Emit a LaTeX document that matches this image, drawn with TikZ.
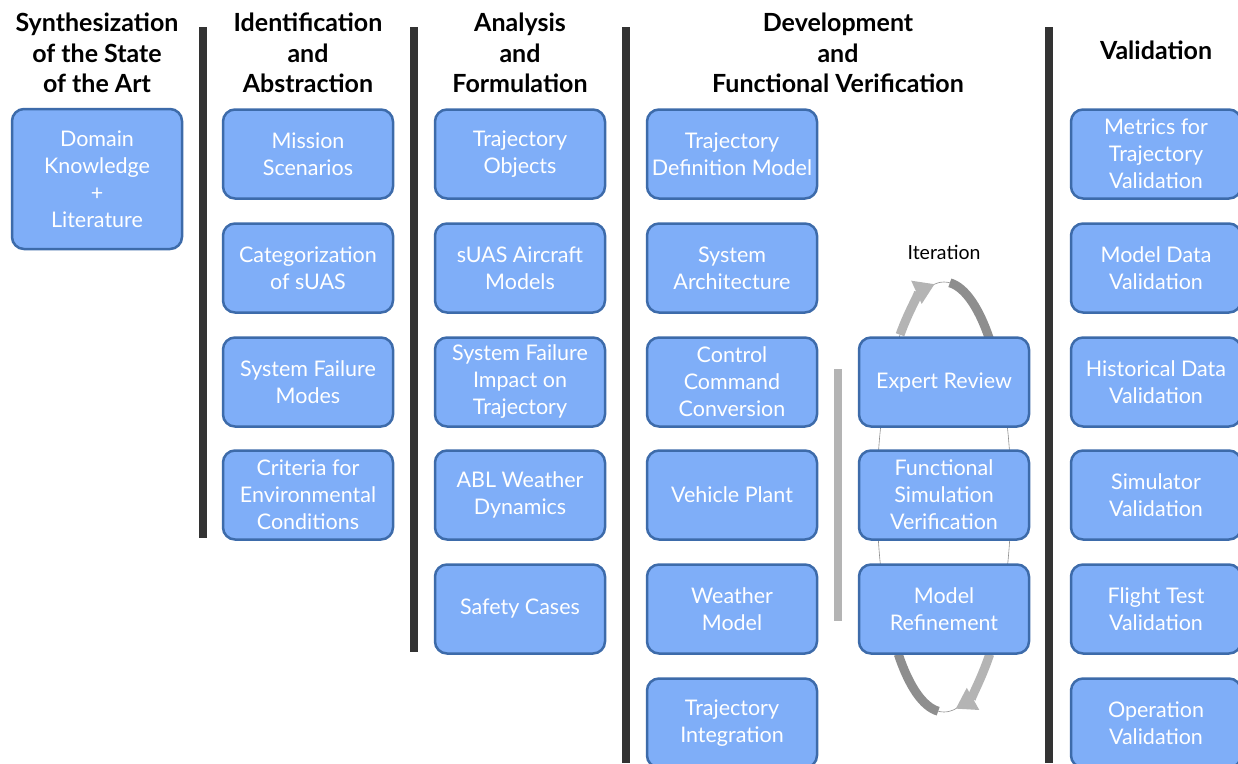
\documentclass[tikz,border=0pt]{standalone}
\usepackage{fontspec}
\setmainfont{Lato}
\usetikzlibrary{arrows.meta}
\definecolor{boxfill}{HTML}{7FAEF8}
\definecolor{boxline}{HTML}{3D6BAA}
\definecolor{barcol}{HTML}{333333}
\definecolor{itlight}{HTML}{B4B4B4}
\definecolor{itdark}{HTML}{8E8E8E}
\tikzset{
  stage/.style={rectangle,rounded corners=12pt,draw=boxline,line width=2.5pt,fill=boxfill,
    text=white,minimum width=170pt,minimum height=89pt,align=center,
    font=\fontsize{21.5}{27}\selectfont},
  head/.style={align=center,font=\fontsize{25}{30.5}\selectfont\bfseries},
  divider/.style={line width=8pt,draw=barcol},
  iterarc/.style={line width=9pt},
}
\begin{document}
\begin{tikzpicture}[x=1pt,y=-1pt]
        \useasboundingbox (0,0) rectangle (1238,763);
        \clip (0,0) rectangle (1238,763);

        % column headings
        \draw (97,53) node (h1) [head] {Synthesization\\of the State\\of the Art};
        \draw (308,53) node (h2) [head] {Identification\\and\\Abstraction};
        \draw (520,53) node (h3) [head] {Analysis\\and\\Formulation};
        \draw (838,53) node (h4) [head] {Development\\and\\Functional Verification};
        \draw (1156,50) node (h5) [head] {Validation};

        % dividers
        \draw [divider] (203,27) -- (203,538);
        \draw [divider] (414,27) -- (414,652);
        \draw [divider] (626,27) -- (626,763);
        \draw [divider] (1049,27) -- (1049,763);
        \draw [line width=8pt,draw=itlight] (838,369) -- (838,621);

        % iteration loop (behind the boxes)
        \draw [itdark,line width=0.6pt] (944,497) ellipse (67 and 215);
        \draw [iterarc,itlight,-{Triangle[length=20pt,width=24pt]}] (944,497) ++(229:67 and 215) arc (229:262:67 and 215);
        \draw [iterarc,itdark] (944,497) ++(275:67 and 215) arc (275:315:67 and 215);
        \draw [iterarc,itdark] (944,497) ++(133:67 and 215) arc (133:95:67 and 215);
        \draw [iterarc,itlight,-{Triangle[length=20pt,width=24pt]}] (944,497) ++(47:67 and 215) arc (47:80:67 and 215);
        \draw (944,252) node (iter) [font=\fontsize{19.5}{22}\selectfont] {Iteration};

        % synthesization
        \draw (97,179) node (know) [stage,minimum height=140pt] {Domain\\Knowledge\\+\\Literature};

        % identification
        \draw (308,154) node (mission) [stage] {Mission\\Scenarios};
        \draw (308,268) node (categ) [stage] {Categorization\\of sUAS};
        \draw (308,382) node (failmode) [stage] {System Failure\\Modes};
        \draw (308,495) node (envcrit) [stage] {Criteria for\\Environmental\\Conditions};

        % analysis
        \draw (520,154) node (trajobj) [stage] {Trajectory\\Objects};
        \draw (520,268) node (aircraft) [stage] {sUAS Aircraft\\Models};
        \draw (520,382) node (failimp) [stage] {System Failure\\Impact on\\Trajectory};
        \draw (520,495) node (weather) [stage] {ABL Weather\\Dynamics};
        \draw (520,609) node (safety) [stage] {Safety Cases};

        % development
        \draw (732,154) node (trajdef) [stage] {Trajectory\\Definition Model};
        \draw (732,268) node (sysarch) [stage] {System\\Architecture};
        \draw (732,382) node (ctrlcmd) [stage] {Control\\Command\\Conversion};
        \draw (732,495) node (plant) [stage] {Vehicle Plant};
        \draw (732,609) node (wmodel) [stage] {Weather\\Model};
        \draw (732,723) node (trajint) [stage] {Trajectory\\Integration};

        % functional verification
        \draw (944,382) node (expert) [stage] {Expert Review};
        \draw (944,495) node (funcsim) [stage] {Functional\\Simulation\\Verification};
        \draw (944,609) node (refine) [stage] {Model\\Refinement};

        % validation
        \draw (1156,154) node (metrics) [stage] {Metrics for\\Trajectory\\Validation};
        \draw (1156,268) node (mdata) [stage] {Model Data\\Validation};
        \draw (1156,382) node (hdata) [stage] {Historical Data\\Validation};
        \draw (1156,495) node (simval) [stage] {Simulator\\Validation};
        \draw (1156,609) node (flight) [stage] {Flight Test\\Validation};
        \draw (1156,723) node (oper) [stage] {Operation\\Validation};

    \end{tikzpicture}
\end{document}
